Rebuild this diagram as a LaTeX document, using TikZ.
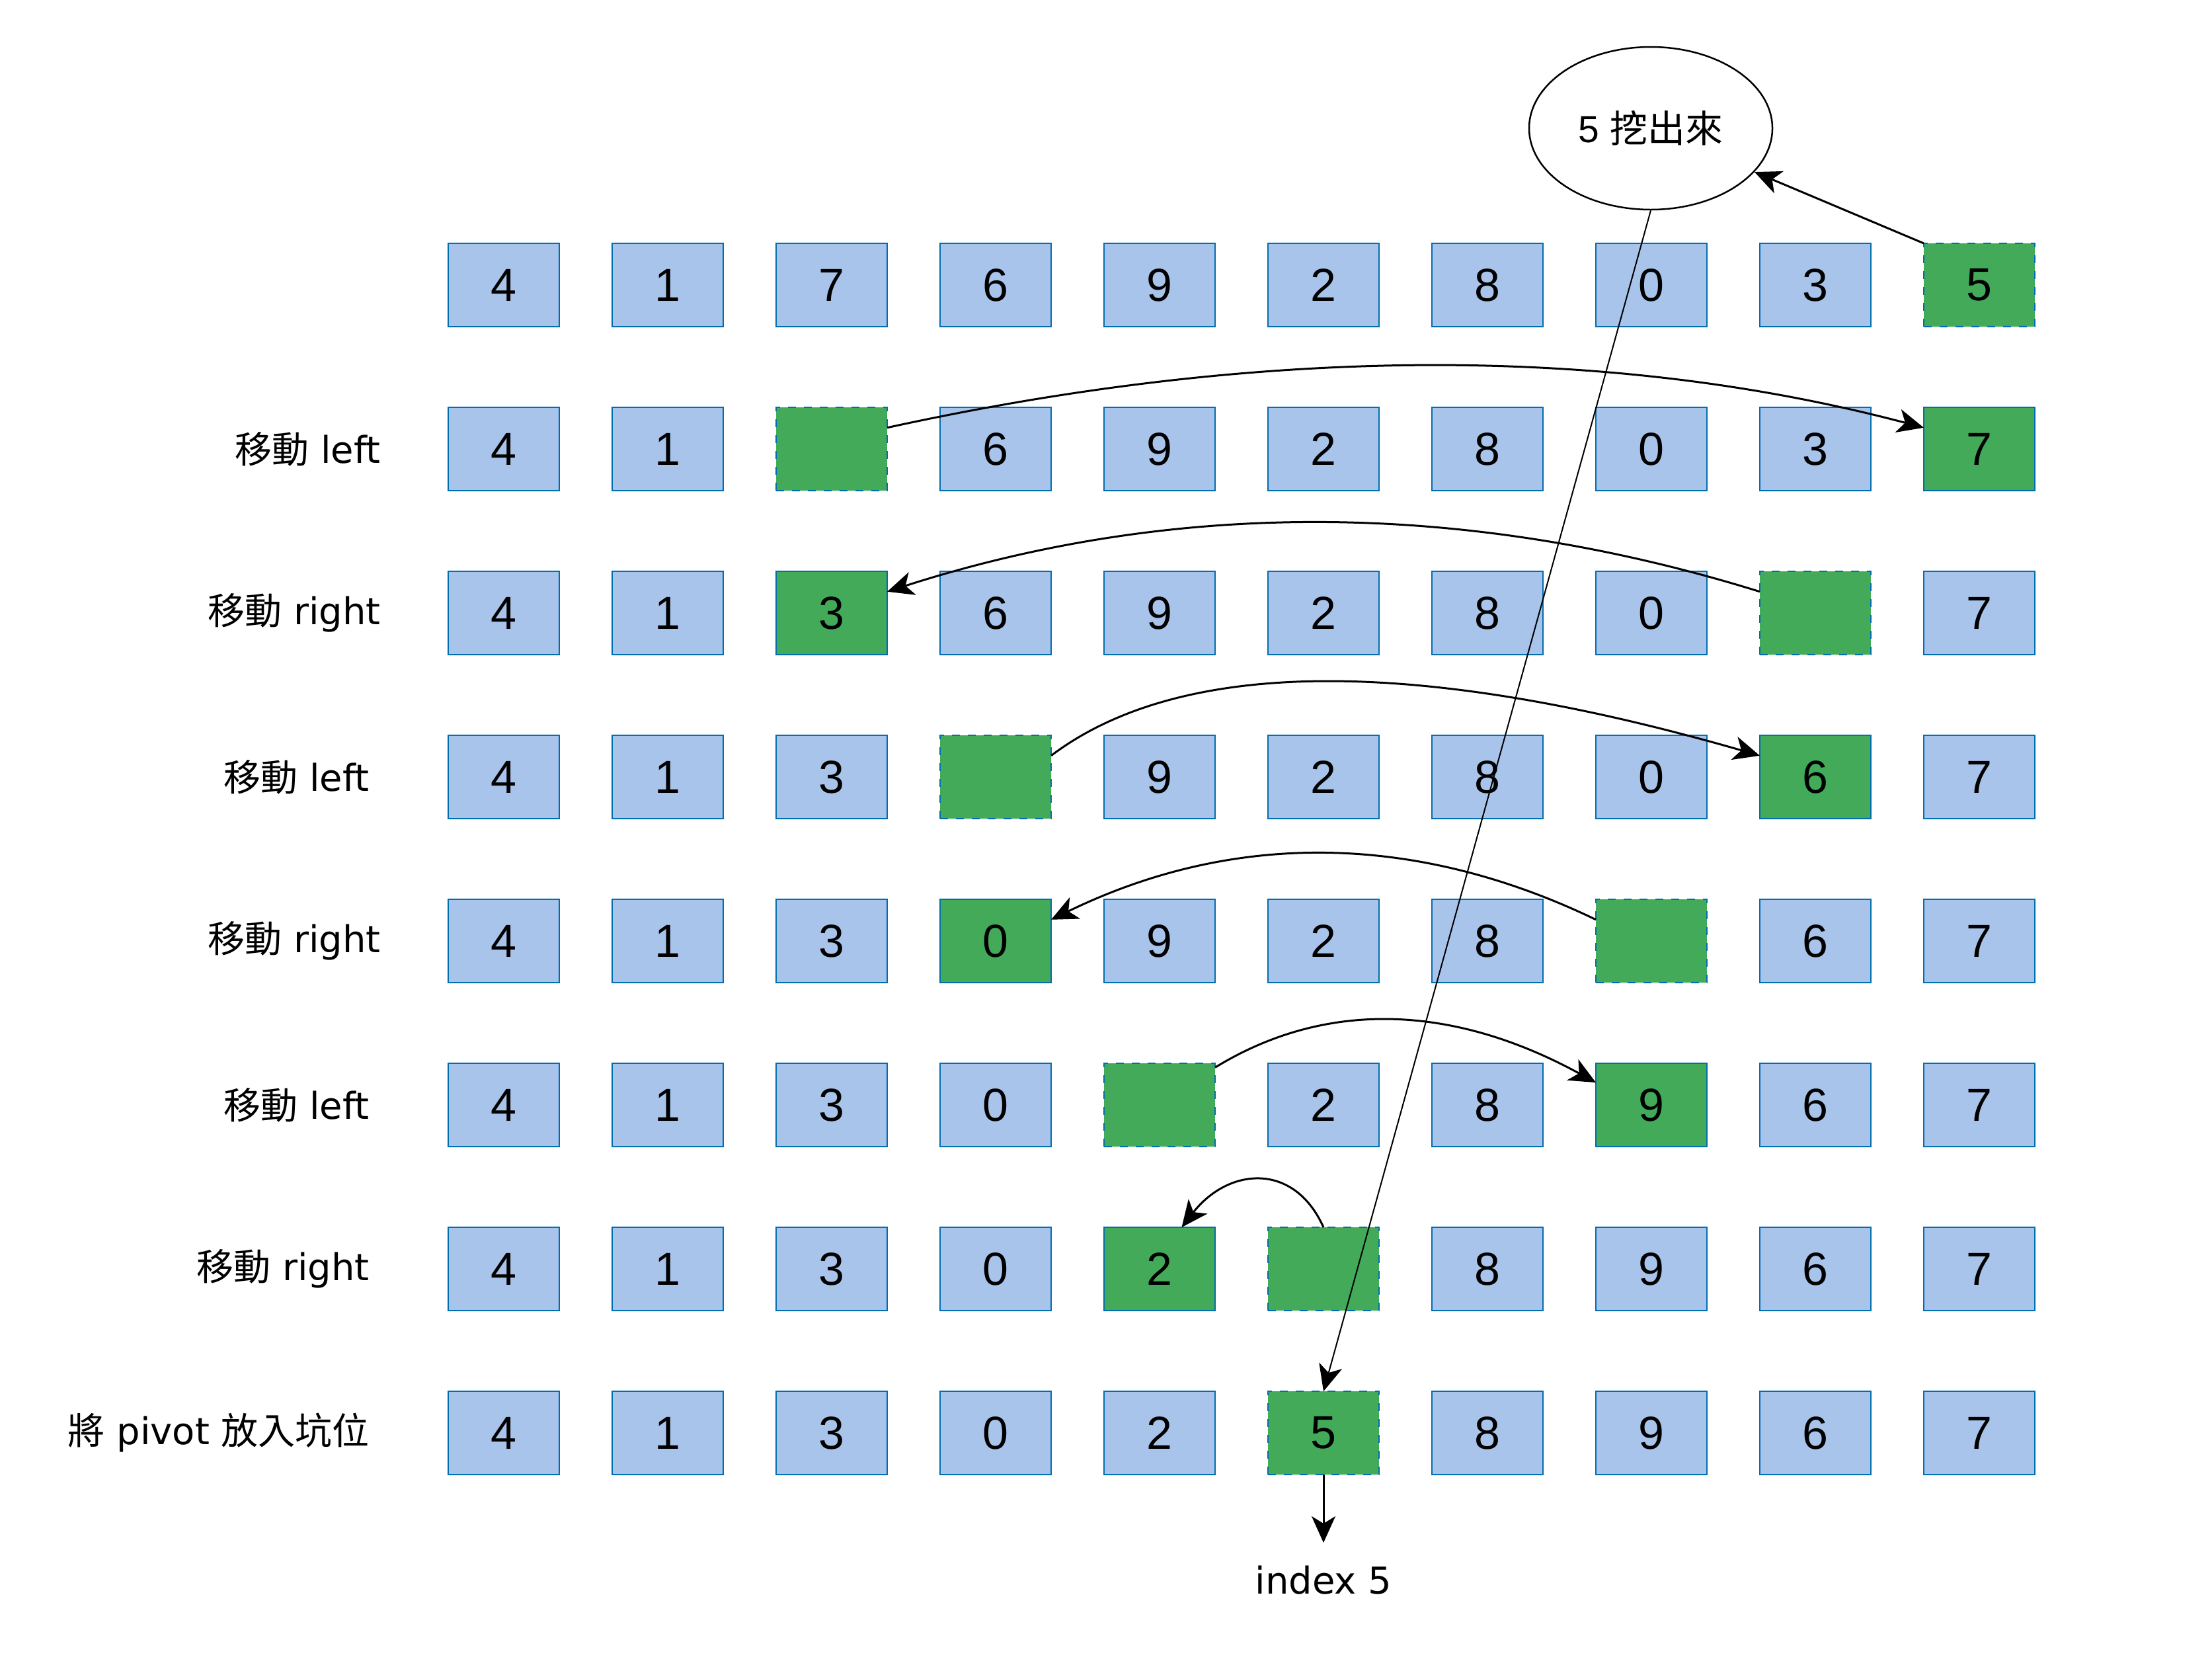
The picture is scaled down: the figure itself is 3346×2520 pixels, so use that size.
\documentclass[tikz,border=0pt]{standalone}
\usepackage{fontspec}
\setmainfont{Liberation Sans}
\newfontfamily\cjk{Noto Sans CJK TC}
\newfontfamily\latinlab{DejaVu Sans}
\usetikzlibrary{arrows.meta,shapes.geometric}
\definecolor{cellblue}{HTML}{A9C4EB}
\definecolor{cellline}{HTML}{006EAF}
\definecolor{cellgreen}{HTML}{42AA59}
\newcommand\cellrow[2]{%
  \foreach \v/\t [count=\i from 0] in {#2} {%
    \node[\t] (r#1-\i) at ({762+248*\i},{431+248*#1}) {\v};}}
\newcommand\cj[1]{{\cjk #1}}
\begin{document}
\begin{tikzpicture}[x=1pt,y=-1pt,
  cell/.style={draw=cellline, line width=2.8pt, minimum width=168pt, minimum height=126pt,
    inner sep=0pt, outer sep=0pt, font=\fontsize{70}{84}\selectfont},
  boxB/.style={cell, fill=cellblue},
  boxG/.style={cell, fill=cellgreen},
  boxD/.style={cell, fill=cellgreen, dash pattern=on 12pt off 12pt},
  lab/.style={anchor=east, inner sep=0pt, font=\latinlab\fontsize{56}{68}\selectfont},
  arr/.style={line width=3pt, -{Stealth[length=40pt,width=36pt,inset=11pt]}},
]
\useasboundingbox (0,0) rectangle (3346,2520);

\cellrow{0}{4/boxB,1/boxB,7/boxB,6/boxB,9/boxB,2/boxB,8/boxB,0/boxB,3/boxB,5/boxD}
\cellrow{1}{4/boxB,1/boxB,{}/boxD,6/boxB,9/boxB,2/boxB,8/boxB,0/boxB,3/boxB,7/boxG}
\cellrow{2}{4/boxB,1/boxB,3/boxG,6/boxB,9/boxB,2/boxB,8/boxB,0/boxB,{}/boxD,7/boxB}
\cellrow{3}{4/boxB,1/boxB,3/boxB,{}/boxD,9/boxB,2/boxB,8/boxB,0/boxB,6/boxG,7/boxB}
\cellrow{4}{4/boxB,1/boxB,3/boxB,0/boxG,9/boxB,2/boxB,8/boxB,{}/boxD,6/boxB,7/boxB}
\cellrow{5}{4/boxB,1/boxB,3/boxB,0/boxB,{}/boxD,2/boxB,8/boxB,9/boxG,6/boxB,7/boxB}
\cellrow{6}{4/boxB,1/boxB,3/boxB,0/boxB,2/boxG,{}/boxD,8/boxB,9/boxB,6/boxB,7/boxB}
\cellrow{7}{4/boxB,1/boxB,3/boxB,0/boxB,2/boxB,5/boxD,8/boxB,9/boxB,6/boxB,7/boxB}

\node[lab] (l1) at (576,679) {\cj{移動} left};
\node[lab] (l2) at (576,927) {\cj{移動} right};
\node[lab] (l3) at (559,1175) {\cj{移動} left};
\node[lab] (l4) at (576,1423) {\cj{移動} right};
\node[lab] (l5) at (559,1671) {\cj{移動} left};
\node[lab] (l6) at (559,1919) {\cj{移動} right};
\node[lab] (l7) at (559,2167) {\cj{將} pivot \cj{放入坑位}};

\node[draw, ellipse, line width=2.5pt, minimum width=368pt, minimum height=246pt, inner sep=0pt]
  (ell) at (2497,194) {\fontsize{57}{68}\selectfont 5 {\cjk 挖出來}};

\node[lab, anchor=center] (idx) at (2002,2390) {index 5};
\coordinate (idxtip) at (2002,2333);

\draw[arr] (r0-9.north west) -- (ell);
\draw[arr] (r1-2.21) .. controls +(572,-125) and +(-473,-125) .. (r1-9.159);
\draw[arr] (r2-8.159) .. controls +(-448,-139) and +(432,-139) .. (r2-2.21);
\draw[arr] (r3-3.21) .. controls +(197,-149) and +(-517,-149) .. (r3-8.159);
\draw[arr] (r4-7.159) .. controls +(-276,-133) and +(273,-133) .. (r4-3.21);
\draw[arr] (r5-4.34) .. controls +(168,-103) and +(-216,-118) .. (r5-7.158);
\draw[arr] (r6-5.north) .. controls +(-45,-100) and +(70,-90) .. (r6-4.62);
\draw[arr, line width=2pt] (ell.south) -- (r7-5.north);
\draw[arr] (r7-5.south) -- (idxtip);
\end{tikzpicture}
\end{document}
